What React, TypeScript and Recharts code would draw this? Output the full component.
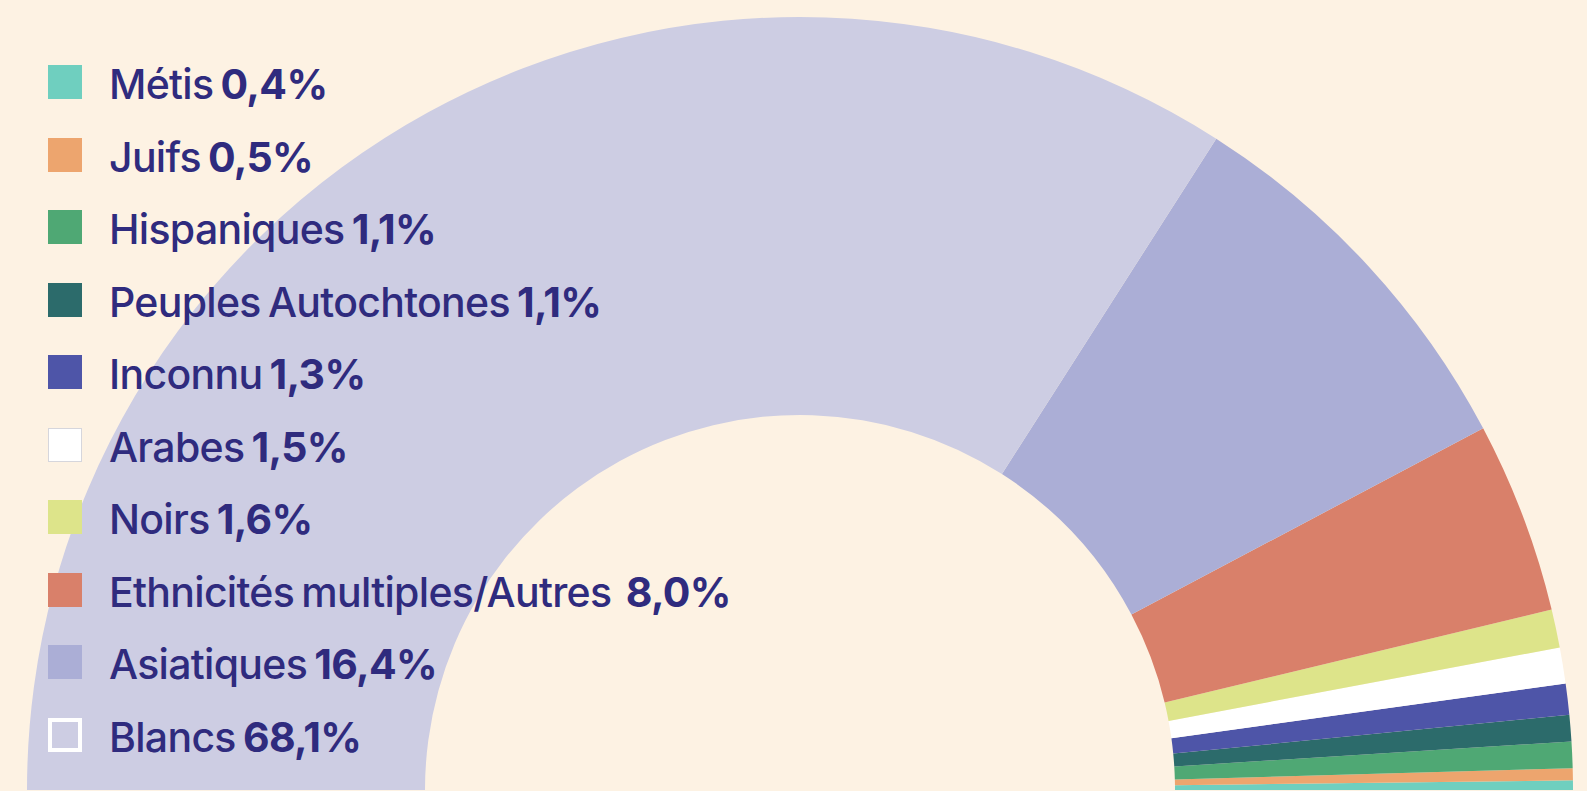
import { PieChart, Pie, Cell, Legend } from 'recharts';

const groups = ['Métis', 'Juifs', 'Hispaniques', 'Peuples Autochtones', 'Inconnu', 'Arabes', 'Noirs', 'Ethnicités multiples/Autres', 'Asiatiques', 'Blancs'];
const shares = [0.4, 0.5, 1.1, 1.1, 1.3, 1.5, 1.6, 8.0, 16.4, 68.1];
const shareLabels = ['0,4%', '0,5%', '1,1%', '1,1%', '1,3%', '1,5%', '1,6%', '8,0%', '16,4%', '68,1%'];
const colors = ['#6fcfbf', '#eda56e', '#4fa874', '#2c6b6b', '#4e55a8', '#ffffff', '#dde48a', '#d9806a', '#abaed6', '#cdcde3'];

const data = groups.map((g, i) => ({ name: g, value: shares[i], label: shareLabels[i], color: colors[i] }));

const textColor = '#2f2b7e';

const LegendBox = () => (
    <div style={{ position: 'relative', width: 800, height: 791 }}>
        {data.map((d, i) => {
            const top = 65 + i * 72.5;
            const outlined = i === data.length - 1;
            return <div key={d.name} style={{ position: 'absolute', left: 0, top, height: 35 }}>
                <div style={{
                    position: 'absolute', left: 48, top: 0, width: 34, height: 34, boxSizing: 'border-box',
                    background: outlined ? 'transparent' : d.color,
                    border: outlined ? '4px solid #ffffff' : (d.color === '#ffffff' ? '1px solid #d6d6dc' : 'none'),
                }} />
                <div style={{
                    position: 'absolute', left: 109, top: -6, whiteSpace: 'nowrap', fontFamily: 'Inter, sans-serif',
                    fontSize: 41, fontWeight: 500, letterSpacing: -0.7, wordSpacing: -3, color: textColor, lineHeight: '50px',
                }}>
                    {d.name}{i === 7 ? '\u00a0 ' : ' '}<span style={{ fontWeight: 700 }}>{d.label}</span>
                </div>
            </div>;
        })}
    </div>
);

export default function App() {
    return <div style={{ position: 'absolute', left: 0, top: 0, width: 1587, height: 791, background: '#fdf2e3', overflow: 'hidden' }}>
        <PieChart width={1587} height={791}>
            <Pie
                data={data}
                dataKey="value"
                nameKey="name"
                cx={795}
                cy={785}
                innerRadius={375}
                outerRadius={773}
                startAngle={0}
                endAngle={180}
                stroke="none"
                isAnimationActive={false}
            >
                {data.map((d) => <Cell key={d.name} fill={d.color} />)}
            </Pie>
            <Legend content={<LegendBox />} wrapperStyle={{ position: 'absolute', left: 0, top: 0, width: 800, height: 791 }} />
        </PieChart>
    </div>;
}
